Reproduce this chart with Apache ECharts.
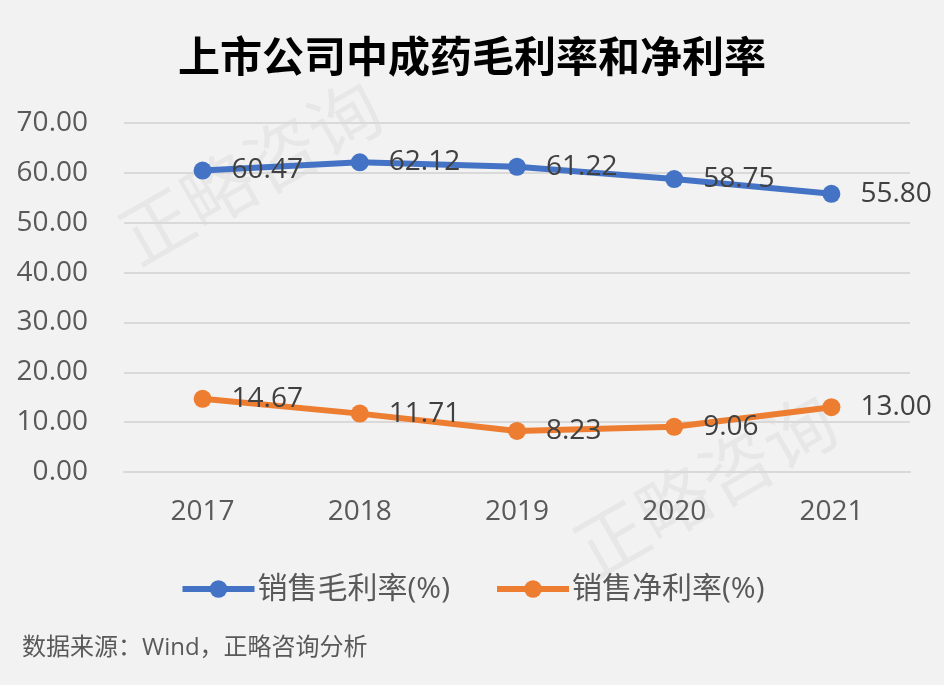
<!DOCTYPE html>
<html>
<head>
<meta charset="utf-8">
<script src="https://cdn.jsdelivr.net/npm/echarts@6/dist/echarts.min.js"></script>
<style>
html, body { margin: 0; padding: 0; background: #f2f2f2; }
#chart { width: 944px; height: 685px; }
</style>
</head>
<body>
<div id="chart"></div>
<script>
const years = ['2017', '2018', '2019', '2020', '2021']
const grossMargin = [60.47, 62.12, 61.22, 58.75, 55.80]
const netMargin = [14.67, 11.71, 8.23, 9.06, 13.00]
const seriesNames = ['销售毛利率(%)', '销售净利率(%)']

const font = '"Open Sans", "Noto Sans CJK SC", sans-serif'

function makeSeries(name, data, color) {
    return {
        name: name,
        type: 'line',
        data: data,
        symbol: 'circle',
        symbolSize: 18,
        lineStyle: {width: 6, color: color},
        itemStyle: {color: color},
        label: {
            show: true,
            position: 'right',
            distance: 20,
            color: '#404040',
            fontSize: 28,
            fontFamily: font,
            formatter: p => p.value.toFixed(2)
        }
    }
}

let chart = echarts.init(document.getElementById('chart'))
chart.setOption({
    backgroundColor: '#f2f2f2',
    animation: false,
    title: {
        text: '上市公司中成药毛利率和净利率',
        left: 'center',
        top: 30,
        textStyle: {fontSize: 42, fontWeight: 'bold', color: '#000', fontFamily: '"Noto Sans CJK SC", sans-serif'}
    },
    legend: {
        data: seriesNames,
        top: 569,
        left: 'center',
        itemWidth: 72,
        itemHeight: 22,
        itemGap: 44,
        lineStyle: {width: 6},
        textStyle: {fontSize: 30, color: '#595959', fontFamily: font, padding: [0, 0, 0, -2]}
    },
    grid: {left: 124, right: 34, top: 123, bottom: 213, containLabel: false},
    xAxis: {
        type: 'category',
        data: years,
        axisLine: {lineStyle: {color: '#d9d9d9', width: 2}},
        axisTick: {show: false},
        axisLabel: {fontSize: 28, color: '#595959', margin: 26, fontFamily: font}
    },
    yAxis: {
        type: 'value',
        min: 0,
        max: 70,
        interval: 10,
        axisLine: {show: false},
        axisTick: {show: false},
        splitLine: {lineStyle: {color: '#d9d9d9', width: 2}},
        axisLabel: {fontSize: 28, color: '#595959', margin: 36, fontFamily: font, formatter: v => v.toFixed(2)}
    },
    graphic: [
        {type: 'text', x: 250, y: 172, rotation: 0.52, z: -1,
         style: {text: '正略咨询', fontSize: 72, fill: 'rgba(0,0,0,0.045)', align: 'center', verticalAlign: 'middle', fontFamily: '"Noto Sans CJK SC"'}},
        {type: 'text', x: 705, y: 485, rotation: 0.52, z: -1,
         style: {text: '正略咨询', fontSize: 72, fill: 'rgba(0,0,0,0.045)', align: 'center', verticalAlign: 'middle', fontFamily: '"Noto Sans CJK SC"'}},
        {type: 'text', left: 22, top: 636,
         style: {text: '数据来源：Wind，正略咨询分析', fontSize: 24, fill: '#595959', fontFamily: font}}
    ],
    series: [
        makeSeries(seriesNames[0], grossMargin, '#4472c4'),
        makeSeries(seriesNames[1], netMargin, '#ed7d31')
    ]
})
</script>
</body>
</html>
